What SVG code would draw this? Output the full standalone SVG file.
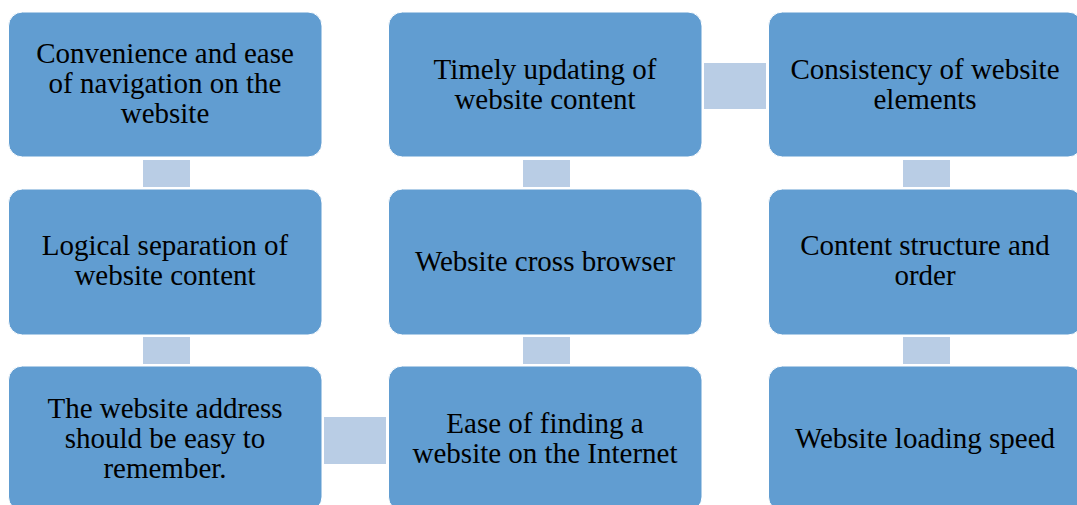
<svg xmlns="http://www.w3.org/2000/svg" width="1077" height="505" viewBox="0 0 1077 505">
<style>
.box{fill:#619dd1;stroke:#ffffff;stroke-width:1}
.con{fill:#b9cde5}
.t{font-family:'Liberation Serif','Times New Roman','DejaVu Serif',serif;font-size:29px;fill:#000;text-anchor:middle}
</style>
<rect width="1077" height="505" fill="#ffffff"/>
<g id="connectors">
<rect class="con" x="143" y="160" width="47" height="27"/>
<rect class="con" x="143" y="337" width="47" height="27"/>
<rect class="con" x="523" y="160" width="47" height="27"/>
<rect class="con" x="523" y="337" width="47" height="27"/>
<rect class="con" x="903" y="160" width="47" height="27"/>
<rect class="con" x="903" y="337" width="47" height="27"/>
<rect class="con" x="704" y="63" width="62" height="46"/>
<rect class="con" x="324" y="417" width="62" height="47"/>
</g>
<g id="n1">
<rect class="box" x="8.5" y="12" width="313.5" height="145" rx="14"/>
<text class="t" font-family="Liberation Serif" x="165" y="63">Convenience and ease</text>
<text class="t" font-family="Liberation Serif" x="165" y="93">of navigation on the</text>
<text class="t" font-family="Liberation Serif" x="165" y="123">website</text>
</g>
<g id="n2">
<rect class="box" x="8.5" y="189" width="313.5" height="146" rx="14"/>
<text class="t" x="165" y="255">Logical separation of</text>
<text class="t" x="165" y="285">website content</text>
</g>
<g id="n3">
<rect class="box" x="8.5" y="366" width="313.5" height="145" rx="14"/>
<text class="t" x="165" y="418">The website address</text>
<text class="t" x="165" y="448">should be easy to</text>
<text class="t" x="165" y="478">remember.</text>
</g>
<g id="n4">
<rect class="box" x="388.5" y="12" width="313.5" height="145" rx="14"/>
<text class="t" x="545" y="79">Timely updating of</text>
<text class="t" x="545" y="109">website content</text>
</g>
<g id="n5">
<rect class="box" x="388.5" y="189" width="313.5" height="146" rx="14"/>
<text class="t" x="545" y="271">Website cross browser</text>
</g>
<g id="n6">
<rect class="box" x="388.5" y="366" width="313.5" height="145" rx="14"/>
<text class="t" x="545" y="433">Ease of finding a</text>
<text class="t" x="545" y="463">website on the Internet</text>
</g>
<g id="n7">
<rect class="box" x="768.5" y="12" width="313.5" height="145" rx="14"/>
<text class="t" x="925" y="79">Consistency of website</text>
<text class="t" x="925" y="109">elements</text>
</g>
<g id="n8">
<rect class="box" x="768.5" y="189" width="313.5" height="146" rx="14"/>
<text class="t" x="925" y="255">Content structure and</text>
<text class="t" x="925" y="285">order</text>
</g>
<g id="n9">
<rect class="box" x="768.5" y="366" width="313.5" height="145" rx="14"/>
<text class="t" x="925" y="448">Website loading speed</text>
</g>
</svg>
